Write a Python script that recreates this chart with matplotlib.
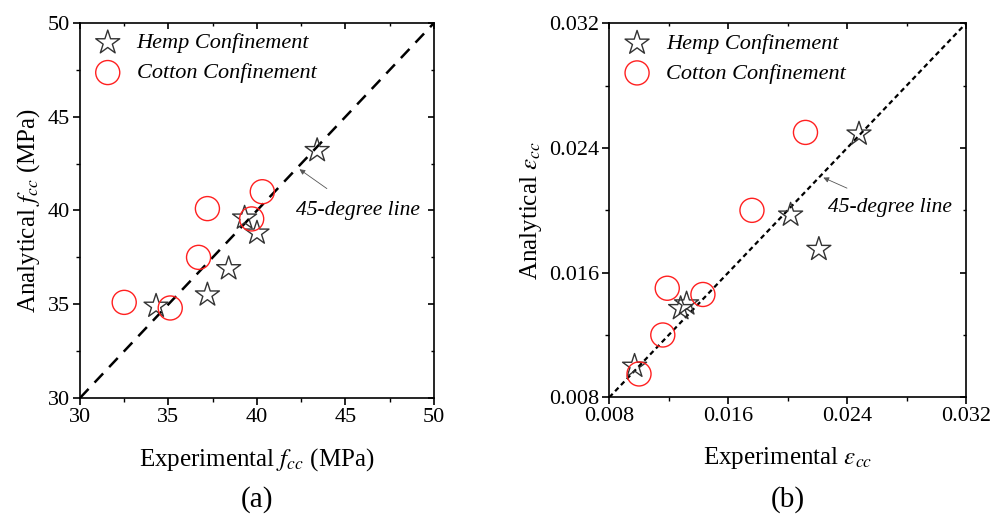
import matplotlib
matplotlib.use("Agg")
import matplotlib.pyplot as plt
import numpy as np

plt.rcParams["font.family"] = ["Liberation Serif", "DejaVu Serif"]
plt.rcParams["mathtext.fontset"] = "stix"

# (a) peak strength, MPa
hemp_fcc_exp = [43.4, 39.3, 40.0, 38.4, 37.2, 34.3]
hemp_fcc_ana = [43.2, 39.6, 38.8, 36.9, 35.5, 34.9]
cotton_fcc_exp = [40.3, 37.2, 39.7, 36.7, 32.5, 35.1]
cotton_fcc_ana = [41.0, 40.1, 39.55, 37.5, 35.1, 34.8]

# (b) peak strain
hemp_ecc_exp = [0.0248, 0.0202, 0.0221, 0.0132, 0.0128, 0.0097]
hemp_ecc_ana = [0.0249, 0.0197, 0.0175, 0.0140, 0.0137, 0.0100]
cotton_ecc_exp = [0.0212, 0.0176, 0.0119, 0.0143, 0.0116, 0.0100]
cotton_ecc_ana = [0.0250, 0.0200, 0.0150, 0.0146, 0.0120, 0.0095]

fcc_ticks = [30, 35, 40, 45, 50]
ecc_ticks = [0.008, 0.016, 0.024, 0.032]
ecc_labels = ["0.008", "0.016", "0.024", "0.032"]

fig = plt.figure(figsize=(9.92, 5.15), dpi=100)
ax1 = fig.add_axes([0.0806, 0.2272, 0.3569, 0.7282])
ax2 = fig.add_axes([0.6142, 0.2285, 0.3596, 0.7262])


def style_axes(ax, ticks, minor_step):
    for s in ax.spines.values():
        s.set_linewidth(1.2)
    minor = np.arange(ticks[0], ticks[-1] + minor_step / 2, minor_step)
    ax.set_xticks(ticks)
    ax.set_yticks(ticks)
    ax.set_xticks(minor, minor=True)
    ax.set_yticks(minor, minor=True)
    ax.tick_params(which="major", direction="out", length=5, width=1.2,
                   labelsize=16, pad=2)
    ax.tick_params(which="minor", direction="out", length=3, width=1.0)
    ax.tick_params(which="both", top=False, right=False)
    # mirrored ticks on top/right pointing inward
    sec_x = ax.secondary_xaxis("top")
    sec_y = ax.secondary_yaxis("right")
    for sec in (sec_x, sec_y):
        sec.spines[:].set_visible(False)
    sec_x.set_xticks(ticks)
    sec_x.set_xticks(minor, minor=True)
    sec_y.set_yticks(ticks)
    sec_y.set_yticks(minor, minor=True)
    sec_x.tick_params(which="major", direction="in", length=4, width=1.2, labeltop=False)
    sec_x.tick_params(which="minor", direction="in", length=2.5, width=1.0)
    sec_y.tick_params(which="major", direction="in", length=4, width=1.2, labelright=False)
    sec_y.tick_params(which="minor", direction="in", length=2.5, width=1.0)


star_kw = dict(marker="*", s=330, facecolors="none", edgecolors="#333333",
               linewidths=1.0, label="Hemp Confinement", zorder=3)
circ_kw = dict(marker="o", s=300, facecolors="none", edgecolors="#ff2020",
               linewidths=1.0, label="Cotton Confinement", zorder=4)
leg_kw = dict(loc="upper left", bbox_to_anchor=(0.0, 1.006), frameon=False,
              prop={"style": "italic", "size": 16}, handlelength=1.4,
              handletextpad=0.6, borderaxespad=0.15, labelspacing=0.42,
              scatterpoints=1)
arrow_kw = dict(arrowstyle="-|>", color="#555555", lw=0.6,
                mutation_scale=8, shrinkA=12, shrinkB=0)

# (a)
ax1.plot(fcc_ticks, fcc_ticks, color="black", lw=1.8, ls=(0, (5, 3.5)), zorder=2)
ax1.scatter(hemp_fcc_exp, hemp_fcc_ana, **star_kw)
ax1.scatter(cotton_fcc_exp, cotton_fcc_ana, **circ_kw)
ax1.set_xlim(30, 50)
ax1.set_ylim(30, 50)
style_axes(ax1, fcc_ticks, 2.5)
ax1.set_xlabel("Experimental $f_{cc}$ (MPa)", fontsize=18, labelpad=14)
ax1.set_ylabel("Analytical $f_{cc}$ (MPa)", fontsize=18, labelpad=4)
ax1.legend(**leg_kw)
ax1.annotate("45-degree line", xy=(42.4, 42.2), xytext=(42.2, 40.0),
             fontsize=15.5, style="italic", va="center", ha="left",
             arrowprops=arrow_kw)
ax1.text(0.5, -0.272, "(a)", transform=ax1.transAxes, ha="center", va="center",
         fontsize=21)

# (b)
ax2.plot(ecc_ticks, ecc_ticks, color="black", lw=1.6, ls=(0, (2.2, 1.6)), zorder=2)
ax2.scatter(hemp_ecc_exp, hemp_ecc_ana, **star_kw)
ax2.scatter(cotton_ecc_exp, cotton_ecc_ana, **circ_kw)
ax2.set_xlim(0.008, 0.032)
ax2.set_ylim(0.008, 0.032)
style_axes(ax2, ecc_ticks, 0.004)
ax2.set_xticklabels(ecc_labels)
ax2.set_yticklabels(ecc_labels)
ax2.set_xlabel(r"Experimental $\varepsilon_{cc}$", fontsize=18, labelpad=14)
ax2.set_ylabel(r"Analytical $\varepsilon_{cc}$", fontsize=18, labelpad=4)
ax2.legend(**leg_kw)
ax2.annotate("45-degree line", xy=(0.0224, 0.0221), xytext=(0.0227, 0.0202),
             fontsize=15.5, style="italic", va="center", ha="left",
             arrowprops=arrow_kw)
ax2.text(0.5, -0.272, "(b)", transform=ax2.transAxes, ha="center", va="center",
         fontsize=21)

fig.savefig("out.png", dpi=100)
